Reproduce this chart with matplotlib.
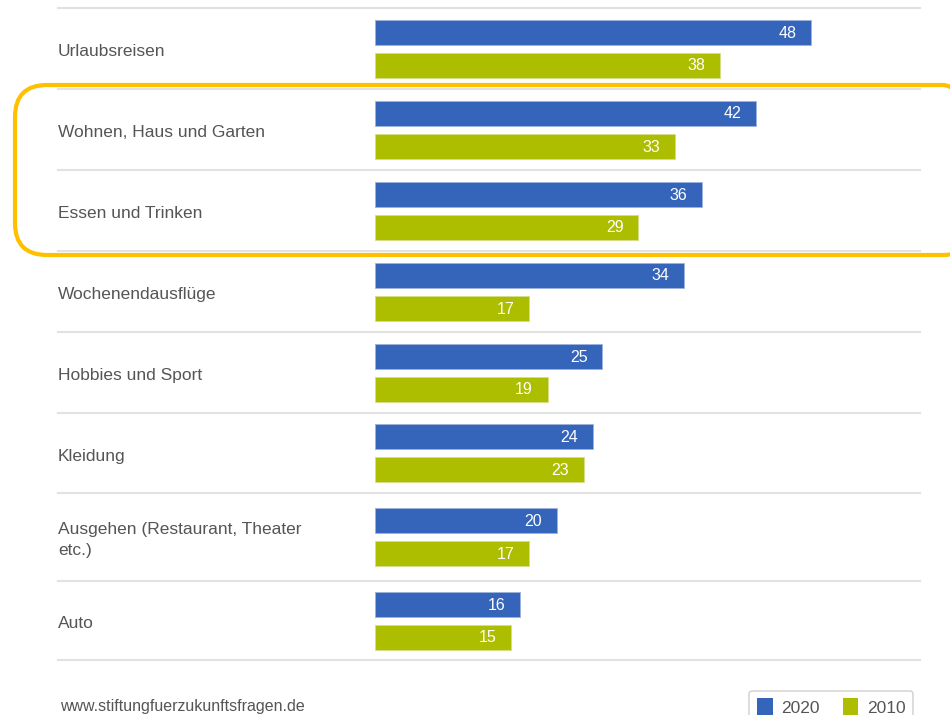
import matplotlib.pyplot as plt
import matplotlib.transforms as mtransforms
from matplotlib.patches import FancyBboxPatch, Patch

plt.rcParams['font.family'] = ['Liberation Sans', 'DejaVu Sans']

categories = ['Urlaubsreisen', 'Wohnen, Haus und Garten', 'Essen und Trinken',
              'Wochenendausflüge', 'Hobbies und Sport', 'Kleidung',
              'Ausgehen (Restaurant, Theater\netc.)', 'Auto']
val_2020 = [48, 42, 36, 34, 25, 24, 20, 16]
val_2010 = [38, 33, 29, 17, 19, 23, 17, 15]
series_names = ['2020', '2010']

blue = '#3465BA'
green = '#ADBD00'
grey_txt = '#555555'

# row borders in pixels (last two rows are a bit taller in the original)
bounds = [8, 89, 170, 251, 332, 413, 493, 581, 660]
centers = [(a + b) / 2 for a, b in zip(bounds[:-1], bounds[1:])]

W, H = 950, 715
fig = plt.figure(figsize=(W / 100, H / 100), dpi=100)
ax = fig.add_axes([0, 0, 1, 1])
px = 9.08  # pixels per unit
x0 = 375
ax.set_xlim(-x0 / px, (W - x0) / px)
ax.set_ylim(H, 0)
ax.axis('off')

bh = 25
off = 16.5
yb = [c - off for c in centers]
yg = [c + off for c in centers]
ax.barh(yb, val_2020, height=bh, color=blue, edgecolor='#9DB3DE', linewidth=0.6)
ax.barh(yg, val_2010, height=bh, color=green, edgecolor='#D5DD88', linewidth=0.6)

for y, v in zip(yb, val_2020):
    ax.text(v - 1.6, y + 1, str(v), color='white', fontsize=11.5, ha='right', va='center')
for y, v in zip(yg, val_2010):
    ax.text(v - 1.6, y + 1, str(v), color='white', fontsize=11.5, ha='right', va='center')

tr = ax.get_yaxis_transform()
for b in bounds:
    ax.plot([58 / W, 920 / W], [b, b], color='#E2E2E2', lw=1.5, transform=tr)

for c, lab in zip(centers, categories):
    ax.text(58 / W, c + 3, lab, color=grey_txt, fontsize=12.5, ha='left', va='center',
            transform=tr, linespacing=1.45)

# highlight frame
box = FancyBboxPatch((15, H - 255), 960, 170, boxstyle='round,pad=0,rounding_size=32',
                     transform=mtransforms.IdentityTransform(), fill=False,
                     edgecolor='#FFC000', lw=3, clip_on=False)
fig.patches.append(box)

fig.text(60 / W, 1 - 706 / H, 'www.stiftungfuerzukunftsfragen.de', color=grey_txt,
         fontsize=11.5, ha='left', va='center')

handles = [Patch(facecolor=blue, label=series_names[0]),
           Patch(facecolor=green, label=series_names[1])]
leg = fig.legend(handles=handles, loc='upper right', bbox_to_anchor=(922 / W, 1 - 682 / H),
                 ncol=2, fontsize=12.5, handlelength=0.9, handleheight=1.1,
                 handletextpad=0.5, columnspacing=1.3, borderpad=0.45, frameon=True,
                 fancybox=True, edgecolor='#CCCCCC', labelcolor=grey_txt)
leg.get_frame().set_linewidth(1.2)

fig.savefig('out.png', dpi=100)
